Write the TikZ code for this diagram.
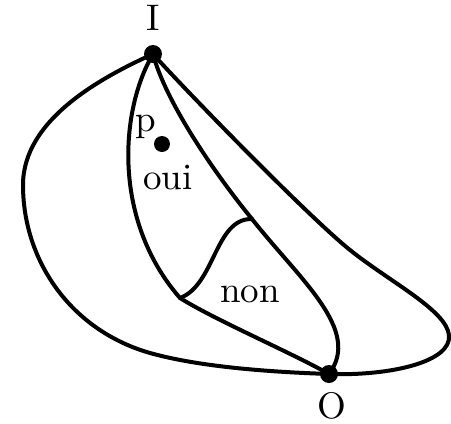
\documentclass[tikz,border=0pt]{standalone}
\usepackage{fontspec}
\setmainfont{lmroman10-regular}[Extension=.otf]
\begin{document}
\begin{tikzpicture}[x=1pt,y=-1pt,
  curve/.style={line width=4pt,line join=round,line cap=round},
  dot/.style={circle,fill=black,inner sep=0pt,minimum size=18pt},
  lab/.style={font=\fontsize{37}{44}\selectfont,inner sep=0pt,anchor=base}]
\useasboundingbox (0,0) rectangle (451,424);
\coordinate (I) at (153,54);
\coordinate (O) at (329,374);
\coordinate (J) at (180,298);
\coordinate (K) at (252,219);
% outer left
\draw[curve] (I) .. controls (100,78) and (23,120) .. (23,185)
  .. controls (23,260) and (70,330) .. (150,353)
  .. controls (200,367) and (270,372) .. (O);
% outer right
\draw[curve] (O) .. controls (390,376) and (452,362) .. (449,335)
  .. controls (446,310) and (390,282) .. (350,250)
  .. controls (310,218) and (188,93) .. (I);
% middle
\draw[curve] (I) .. controls (165,100) and (212,170) .. (K)
  .. controls (300,280) and (362,330) .. (O);
% left inner
\draw[curve] (I) .. controls (120,110) and (112,220) .. (J)
  .. controls (215,320) and (290,352) .. (O);
% wavy
\draw[curve] (J) .. controls (215,285) and (215,218) .. (K);
\node[dot] (Id) at (I) {};
\node[dot] (Od) at (O) {};
\node[dot,minimum size=16pt] (pd) at (162,144) {};
\node[lab] (Il) at (153,30) {I};
\node[lab] (Ol) at (332,418) {O};
\node[lab] (pl) at (146,131) {p};
\node[lab] (oui) at (168,189) {oui};
\node[lab] (non) at (250,302) {non};
\end{tikzpicture}
\end{document}
